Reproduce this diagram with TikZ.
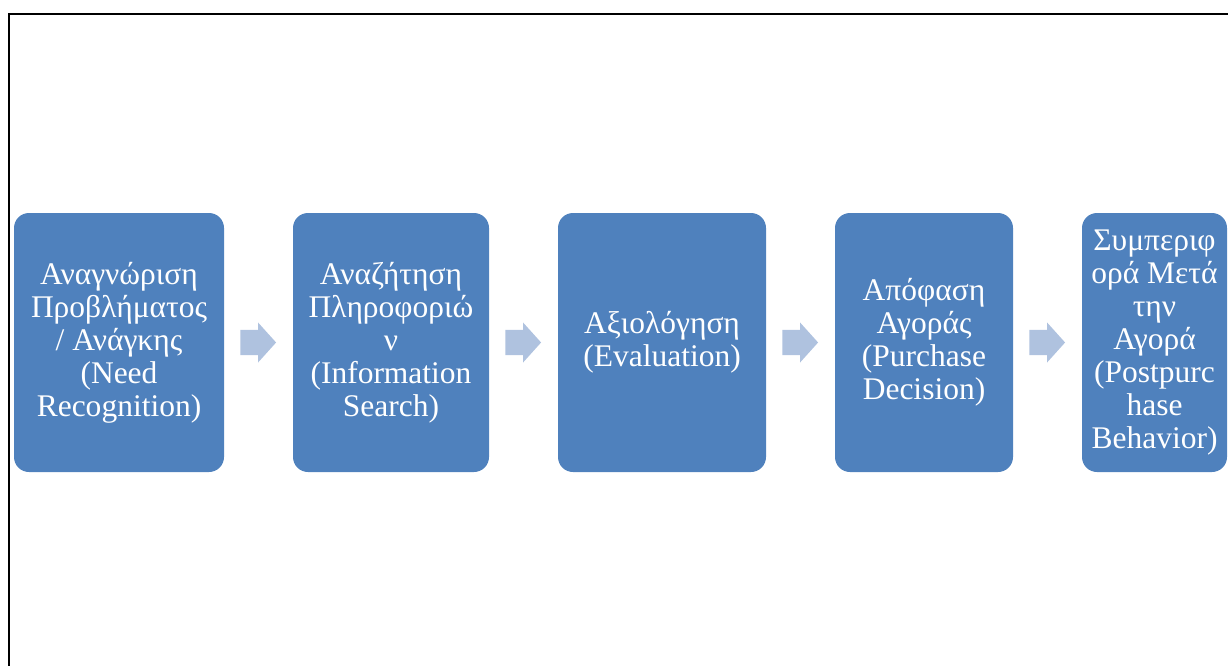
\documentclass[tikz,border=0pt]{standalone}
\usepackage{fontspec}
\setmainfont{Liberation Serif}
\usetikzlibrary{shapes.arrows,calc}
\definecolor{stageblue}{HTML}{4F81BD}
\definecolor{flowblue}{HTML}{AFC2DF}
\tikzset{
  stage/.style={fill=stageblue, draw=none, rounded corners=15pt, text=white,
    align=center, inner sep=0pt, minimum height=259pt,
    font=\fontsize{31.5}{33}\selectfont},
  flow/.style={single arrow, fill=flowblue, draw=none, inner sep=12pt,
    minimum height=35pt, minimum width=40pt, single arrow tip angle=96,
    xshift=-6pt},
  frame/.style={draw=black, line width=2.6pt}
}
\begin{document}
\begin{tikzpicture}[x=1pt,y=-1pt]
  \useasboundingbox (0,0) rectangle (1228,666);
  \clip (0,0) rectangle (1228,666);
  % outer frame, running off the right and bottom edges
  \draw[frame] (9,14) rectangle (1260,700);

  % the five stages of the buying process
  \node[stage, minimum width=210pt] (s1) at (119,342.5)
    {Αναγνώριση\\Προβλήματος\\/ Ανάγκης\\(Need\\Recognition)};
  \node[stage, minimum width=196pt] (s2) at (391,342.5)
    {Αναζήτηση\\Πληροφοριώ\\ν\\(Information\\Search)};
  \node[stage, minimum width=208pt] (s3) at (662,342.5)
    {Αξιολόγηση\\(Evaluation)};
  \node[stage, minimum width=178pt] (s4) at (924,342.5)
    {Απόφαση\\Αγοράς\\(Purchase\\Decision)};
  \node[stage, minimum width=145pt] (s5) at (1154.5,342.5)
    {Συμπεριφ\\ορά Μετά\\την\\Αγορά\\(Postpurc\\hase\\Behavior)};

  % block arrows between consecutive stages
  \node[flow] (f1) at ($(s1.east)!0.5!(s2.west)$) {};
  \node[flow] (f2) at ($(s2.east)!0.5!(s3.west)$) {};
  \node[flow] (f3) at ($(s3.east)!0.5!(s4.west)$) {};
  \node[flow] (f4) at ($(s4.east)!0.5!(s5.west)$) {};
\end{tikzpicture}
\end{document}
